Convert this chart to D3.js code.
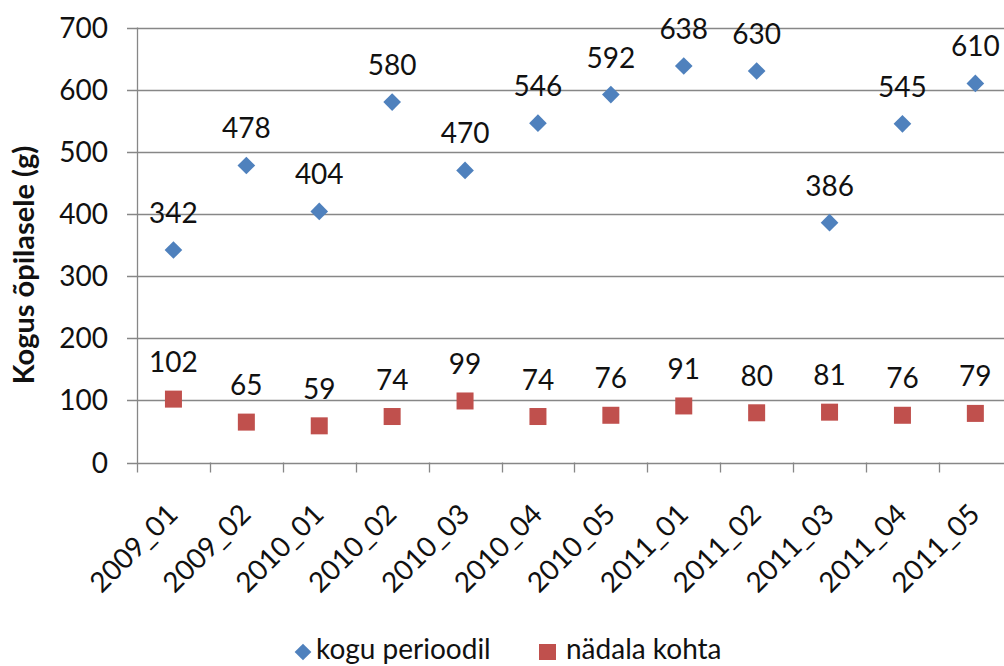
<!DOCTYPE html>
<html><head><meta charset="utf-8">
<script src="https://cdnjs.cloudflare.com/ajax/libs/d3/7.8.5/d3.min.js"></script>
<style>body{margin:0;background:#fff}svg{display:block;font-family:Lato,"Open Sans",sans-serif}</style>
</head><body><svg id="c" width="1004" height="666"></svg>
<script>
const categories = ["2009_01","2009_02","2010_01","2010_02","2010_03","2010_04","2010_05","2011_01","2011_02","2011_03","2011_04","2011_05"];
const koguPerioodil = [342,478,404,580,470,546,592,638,630,386,545,610];
const nadalaKohta = [102,65,59,74,99,74,76,91,80,81,76,79];
const yTicks = [0,100,200,300,400,500,600,700];
const seriesNames = ["kogu perioodil","nädala kohta"];
const colors = ["#4F81BD","#C0504D"];

const svg = d3.select("#c");
const x = d3.scaleBand().domain(categories).range([137, 137 + 12*72.9]);
const y = d3.scaleLinear().domain([0,700]).range([462.5, 27.5]);
const grid = "#878787";
const FS = 28;

// gridlines
svg.append("g").selectAll("line").data(yTicks).join("line")
  .attr("x1",127).attr("x2",1004).attr("y1",d=>Math.round(y(d))+0.5).attr("y2",d=>Math.round(y(d))+0.5)
  .attr("stroke",grid).attr("stroke-width",1.3);
// y axis line
svg.append("line").attr("x1",137.5).attr("x2",137.5).attr("y1",y(700)).attr("y2",y(0)+10)
  .attr("stroke",grid).attr("stroke-width",1.3);
// x ticks
svg.append("g").selectAll("line").data(categories.slice(1)).join("line")
  .attr("x1",d=>Math.round(x(d))+0.5).attr("x2",d=>Math.round(x(d))+0.5).attr("y1",y(0)).attr("y2",y(0)+10)
  .attr("stroke",grid).attr("stroke-width",1.3);
// y tick labels
svg.append("g").selectAll("text").data(yTicks).join("text")
  .attr("x",108).attr("y",d=>y(d)).attr("dy","0.36em").attr("text-anchor","end")
  .attr("font-size",FS).attr("fill","#111").text(d=>d);
// x labels
svg.append("g").selectAll("text").data(categories).join("text")
  .attr("transform",d=>`translate(${x(d)+x.bandwidth()/2-1},${509}) rotate(-45)`)
  .attr("text-anchor","end").attr("dy","0.36em")
  .attr("font-size",FS).attr("fill","#111").text(d=>d);
// axis title
svg.append("text").attr("transform","translate(34,265) rotate(-90)").attr("text-anchor","middle")
  .attr("font-size",29).attr("font-weight","bold").attr("fill","#111").text("Kogus õpilasele (g)");

const cx = d=>x(d)+x.bandwidth()/2;
const diamond = d3.symbol().type(d3.symbolSquare).size(156);
// series 1 diamonds
svg.append("g").selectAll("path").data(categories).join("path")
  .attr("d",diamond).attr("transform",(d,i)=>`translate(${cx(d)},${y(koguPerioodil[i])}) rotate(45)`)
  .attr("fill",colors[0]);
// series 2 squares
svg.append("g").selectAll("rect").data(categories).join("rect")
  .attr("x",d=>cx(d)-8.5).attr("y",(d,i)=>y(nadalaKohta[i])-8.5).attr("width",17).attr("height",17)
  .attr("fill",colors[1]);
// data labels
svg.append("g").selectAll("text").data(categories).join("text")
  .attr("x",cx).attr("y",(d,i)=>y(koguPerioodil[i])-27).attr("text-anchor","middle")
  .attr("font-size",FS).attr("fill","#111").text((d,i)=>koguPerioodil[i]);
svg.append("g").selectAll("text").data(categories).join("text")
  .attr("x",cx).attr("y",(d,i)=>y(nadalaKohta[i])-27).attr("text-anchor","middle")
  .attr("font-size",FS).attr("fill","#111").text((d,i)=>nadalaKohta[i]);

// legend
const lg = svg.append("g");
lg.append("path").attr("d",d3.symbol().type(d3.symbolSquare).size(140)).attr("transform","translate(303,652) rotate(45)").attr("fill",colors[0]);
lg.append("text").attr("x",316).attr("y",659).attr("font-size",FS).attr("fill","#111").text(seriesNames[0]);
lg.append("rect").attr("x",539).attr("y",644).attr("width",17).attr("height",16).attr("fill",colors[1]);
lg.append("text").attr("x",566).attr("y",659).attr("font-size",FS).attr("fill","#111").text(seriesNames[1]);
</script></body></html>
